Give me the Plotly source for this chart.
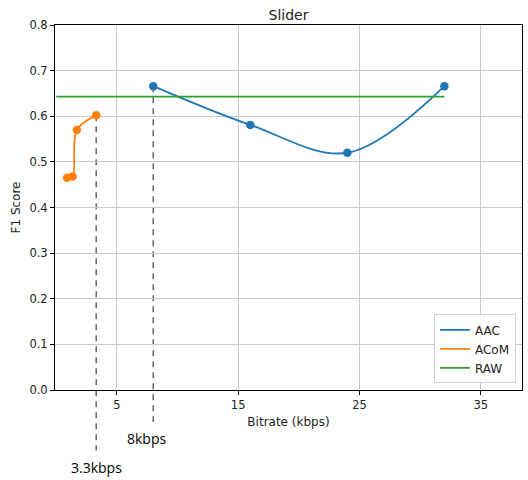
import plotly.graph_objects as go

# ---- data ----
aac_x = [8, 16, 24, 32]
aac_y = [0.666, 0.581, 0.520, 0.666]
acom_x = [0.9, 1.35, 1.7, 3.3]
acom_y = [0.465, 0.468, 0.570, 0.602]
raw_x = [0, 32]
raw_y = [0.643, 0.643]
x_ticks = [5, 15, 25, 35]
y_ticks = [0.0, 0.1, 0.2, 0.3, 0.4, 0.5, 0.6, 0.7, 0.8]
marker_labels = ["3.3kbps", "8kbps"]
marker_x = [acom_x[-1], aac_x[0]]
marker_y = [acom_y[-1], aac_y[0]]

BLUE, ORANGE, GREEN = "#1f77b4", "#ff7f0e", "#2ca02c"
Y_MAX = 0.8

fig = go.Figure()
fig.add_trace(go.Scatter(x=aac_x, y=aac_y, mode="lines", name="AAC",
                         line=dict(color=BLUE, width=1.8, shape="spline", smoothing=1.0)))
fig.add_trace(go.Scatter(x=acom_x, y=acom_y, mode="lines", name="ACoM",
                         line=dict(color=ORANGE, width=1.8, shape="spline", smoothing=1.0)))
fig.add_trace(go.Scatter(x=raw_x, y=raw_y, mode="lines", name="RAW",
                         line=dict(color=GREEN, width=1.8)))
fig.add_trace(go.Scatter(x=aac_x, y=aac_y, mode="markers", showlegend=False,
                         marker=dict(color=BLUE, size=8.5)))
fig.add_trace(go.Scatter(x=acom_x, y=acom_y, mode="markers", showlegend=False,
                         marker=dict(color=ORANGE, size=8.5)))

# dashed vertical guides extending below the axis
bottoms = [-0.166, -0.088]
label_y = [-0.211, -0.133]
label_shift = [0, -7]
for xv, yv, yb, lab, ly, sh in zip(marker_x, marker_y, bottoms, marker_labels, label_y, label_shift):
    fig.add_shape(type="line", xref="x", yref="paper", x0=xv, x1=xv,
                  y0=yv / Y_MAX, y1=yb, layer="below",
                  line=dict(color="#6e6e6e", width=1.6, dash="6px,5px"))
    fig.add_annotation(x=xv, y=ly, xref="x", yref="paper", text=lab, showarrow=False,
                       xshift=sh, font=dict(family="Open Sans", size=14, color="black"),
                       xanchor="center", yanchor="middle")

axis_common = dict(showline=True, linecolor="black", linewidth=1, mirror=True,
                   ticks="outside", ticklen=4, tickcolor="black", tickwidth=1,
                   showgrid=True, gridcolor="#c8c8c8", gridwidth=1, zeroline=False,
                   tickfont=dict(family="DejaVu Sans", size=11.5, color="#222"))

fig.update_layout(
    width=528, height=480,
    margin=dict(l=55, r=6, t=25, b=90),
    paper_bgcolor="white", plot_bgcolor="white",
    title=dict(text="Slider", x=0.5, xref="paper", xanchor="center",
               y=1, yref="paper", yanchor="bottom", pad=dict(b=5),
               font=dict(family="DejaVu Sans", size=14, color="#222")),
    xaxis=dict(range=[-0.1, 38.4], tickvals=x_ticks,
               title=dict(text="Bitrate (kbps)", standoff=6,
                          font=dict(family="DejaVu Sans", size=12, color="#222")),
               **axis_common),
    yaxis=dict(range=[0, Y_MAX], tickvals=y_ticks, tickformat=".1f",
               title=dict(text="F1 Score", standoff=6,
                          font=dict(family="DejaVu Sans", size=12, color="#222")),
               **axis_common),
    legend=dict(x=0.987, y=0.018, xanchor="right", yanchor="bottom",
                bgcolor="rgba(255,255,255,0.85)", bordercolor="#d0d0d0", borderwidth=1,
                font=dict(family="DejaVu Sans", size=12, color="#222"),
                tracegroupgap=0, itemwidth=30),
    showlegend=True,
)

fig.write_html("out.html")
